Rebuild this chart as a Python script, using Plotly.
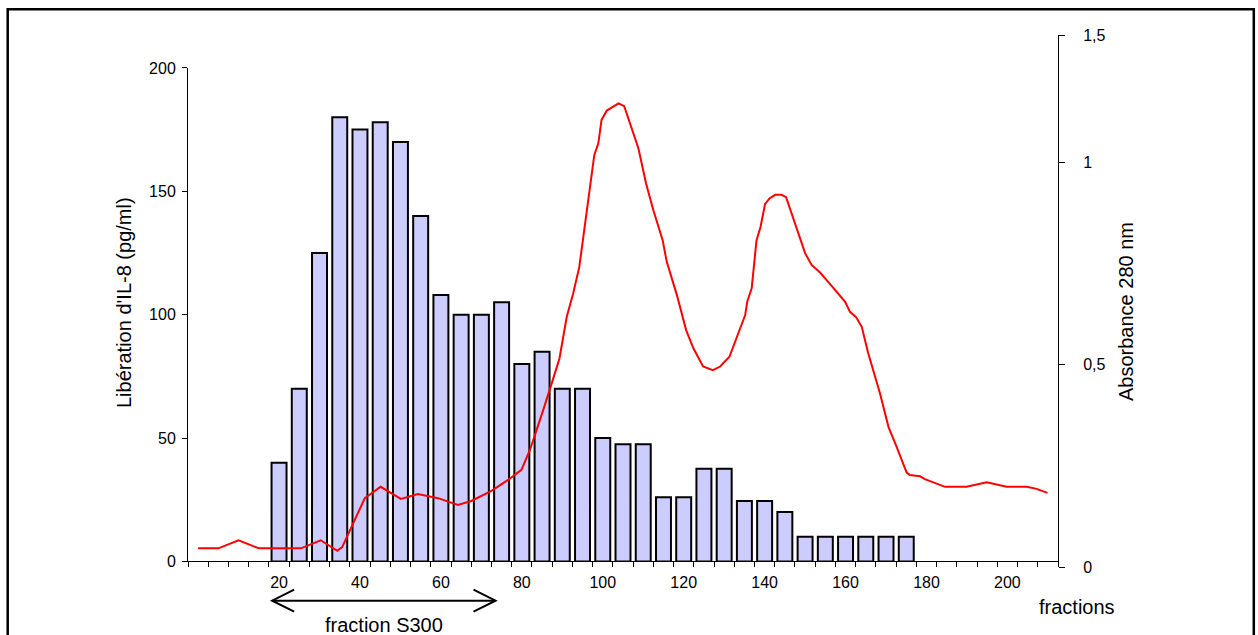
import plotly.graph_objects as go

W, H = 1258, 635

# ---- data ----
bar_fractions = [20, 25, 30, 35, 40, 45, 50, 55, 60, 65, 70, 75, 80, 85, 90, 95,
                 100, 105, 110, 115, 120, 125, 130, 135, 140, 145, 150, 155, 160, 165, 170, 175]
il8_values = [40, 70, 125, 180, 175, 178, 170, 140, 108, 100, 100, 105, 80, 85, 70, 70,
              50, 47.5, 47.5, 26, 26, 37.5, 37.5, 24.5, 24.5, 20, 10, 10, 10, 10, 10, 10]

abs_fractions = [0, 5, 10, 15, 25.4, 30.3, 34.4, 35.6, 41.2, 45.1, 50.1, 54.3, 59.3, 64.2, 67.5,
                 72.5, 76.6, 79.9, 82.0, 83.7, 85.3, 87.4, 89.3, 91.1, 92.7, 94.2, 95.2, 96.2,
                 97.3, 97.9, 98.9, 99.7, 101.0, 103.9, 105.3, 106.7, 108.8, 110.7, 112.5, 114.8,
                 115.8, 118.3, 120.6, 122.4, 124.8, 127.2, 129.0, 131.3, 133.5, 135.2, 135.7,
                 136.8, 138.0, 139.0, 140.1, 141.2, 142.6, 144.2, 145.3, 146.7, 148.7, 150.0,
                 151.6, 153.7, 155.7, 158.6, 159.9, 161.1, 162.6, 164.0, 165.6, 168.5, 170.6,
                 172.6, 175.1, 175.9, 178.4, 179.6, 184.6, 189.9, 194.9, 199.8, 204.8, 207.2, 209.9]
absorbance = [0.046, 0.046, 0.066, 0.046, 0.046, 0.066, 0.040, 0.049, 0.170, 0.198, 0.168, 0.180,
              0.170, 0.153, 0.163, 0.188, 0.215, 0.240, 0.289, 0.338, 0.388, 0.454, 0.515, 0.618,
              0.676, 0.741, 0.816, 0.890, 0.964, 1.017, 1.046, 1.104, 1.127, 1.145, 1.138, 1.096,
              1.034, 0.947, 0.881, 0.807, 0.754, 0.672, 0.585, 0.540, 0.495, 0.486, 0.495, 0.519,
              0.577, 0.622, 0.655, 0.688, 0.807, 0.840, 0.896, 0.910, 0.919, 0.919, 0.913, 0.873,
              0.812, 0.775, 0.746, 0.727, 0.704, 0.672, 0.655, 0.630, 0.617, 0.593, 0.528, 0.429,
              0.346, 0.297, 0.233, 0.227, 0.224, 0.217, 0.198, 0.198, 0.209, 0.198, 0.198, 0.193,
              0.183]

x_tick_vals = [20, 40, 60, 80, 100, 120, 140, 160, 180, 200]
y_tick_vals = [0, 50, 100, 150, 200]
abs_tick_vals = [0, 0.5, 1, 1.3136]
abs_tick_text = ["0", "0,5", "1", "1,5"]
s300_range = [18.3, 73.5]

FONT = "Liberation Sans, Arial, sans-serif"

def px_x(p):
    return p / W

def px_y(p):
    return 1 - p / H

fig = go.Figure()
fig.add_trace(go.Bar(
    x=bar_fractions, y=il8_values, xaxis="x", yaxis="y",
    marker=dict(color="#CCCCFF", line=dict(color="black", width=2)),
    showlegend=False, hoverinfo="x+y"))
fig.add_trace(go.Scatter(
    x=abs_fractions, y=absorbance, xaxis="x", yaxis="y2", mode="lines",
    line=dict(color="#FF0000", width=2), showlegend=False))

minor_ticks = [-2.5 + 5 * k for k in range(44)]

fig.update_layout(
    width=W, height=H,
    margin=dict(l=0, r=0, t=0, b=0, pad=0, autoexpand=False),
    paper_bgcolor="white", plot_bgcolor="rgba(0,0,0,0)",
    bargap=0.26,
    font=dict(family=FONT, color="black", size=16),
    xaxis=dict(
        domain=[px_x(188), px_x(1058)], range=[-2.5, 212.5], anchor="y", automargin=False,
        showline=True, linecolor="black", linewidth=1, showgrid=False, zeroline=False,
        tickmode="array", tickvals=x_tick_vals, ticks="", ticklabelstandoff=6,
        tickfont=dict(size=16),
        minor=dict(tickmode="array", tickvals=minor_ticks, ticks="outside", ticklen=5,
                   tickcolor="black", tickwidth=1, showgrid=False),
    ),
    yaxis=dict(
        domain=[px_y(561.4), px_y(67.9)], range=[0, 200], anchor="x", automargin=False,
        showline=True, linecolor="black", linewidth=1, showgrid=False, zeroline=False,
        tickmode="array", tickvals=y_tick_vals, ticks="outside", ticklen=5,
        tickcolor="black", ticklabelstandoff=3, tickfont=dict(size=16),
    ),
    yaxis2=dict(
        domain=[px_y(567), px_y(35)], range=[0, 1.3136], anchor="x", side="right",
        automargin=False,
        showline=True, linecolor="black", linewidth=1, showgrid=False, zeroline=False,
        tickmode="array", tickvals=abs_tick_vals, ticktext=abs_tick_text,
        ticks="outside", ticklen=6, tickcolor="black", ticklabelstandoff=15,
        tickfont=dict(size=16),
    ),
)

annotations = [
    dict(text="Libération d'IL-8 (pg/ml)", x=px_x(124), y=px_y(303), xref="paper", yref="paper",
         textangle=-90, showarrow=False, font=dict(size=20), xanchor="center", yanchor="middle"),
    dict(text="Absorbance 280 nm", x=px_x(1126), y=px_y(312), xref="paper", yref="paper",
         textangle=-90, showarrow=False, font=dict(size=20), xanchor="center", yanchor="middle"),
    dict(text="fractions", x=px_x(1077), y=px_y(607), xref="paper", yref="paper",
         showarrow=False, font=dict(size=20), xanchor="center", yanchor="middle"),
    dict(text="fraction S300", x=sum(s300_range) / 2, y=px_y(625), xref="x", yref="paper",
         showarrow=False, font=dict(size=20), xanchor="center", yanchor="middle"),
]
fig.update_layout(annotations=annotations)

head_dx = 22 / (870 / 215)
ya, yu, yd = px_y(600.7), px_y(589.7), px_y(611.7)
x0, x1 = s300_range
shapes = [
    dict(type="line", xref="x", yref="paper", x0=x0, x1=x1, y0=ya, y1=ya,
         line=dict(color="black", width=2)),
    dict(type="path", xref="x", yref="paper",
         path=f"M {x0 + head_dx},{yu} L {x0},{ya} L {x0 + head_dx},{yd}",
         line=dict(color="black", width=2)),
    dict(type="path", xref="x", yref="paper",
         path=f"M {x1 - head_dx},{yu} L {x1},{ya} L {x1 - head_dx},{yd}",
         line=dict(color="black", width=2)),
    dict(type="rect", xref="paper", yref="paper", x0=px_x(7.7), x1=px_x(1253.8),
         y0=-0.05, y1=px_y(9.3), line=dict(color="black", width=2.5)),
]
fig.update_layout(shapes=shapes)

fig.write_html("out.html")
